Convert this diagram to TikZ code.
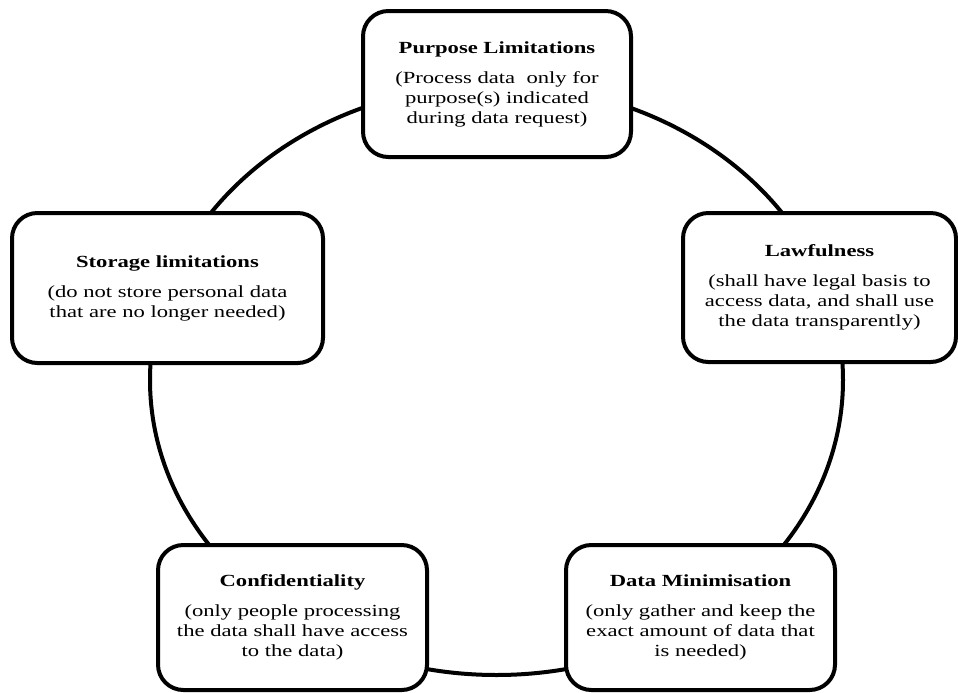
\documentclass[tikz,border=0pt]{standalone}
\usepackage{fontspec}
\setmainfont{Liberation Serif}[FakeStretch=1.33]
\usetikzlibrary{shapes.geometric}
\begin{document}
\begin{tikzpicture}[x=0.75pt,y=-0.75pt,
  ring/.style={draw, line width=3pt, ellipse, inner sep=0pt},
  principle/.style={draw, line width=3pt, rounded corners=19pt, fill=white, align=center, inner sep=0pt, font=\fontsize{12.75}{15}\selectfont}]
\useasboundingbox (0,0) rectangle (958,693);
\node[ring, minimum width=519.75pt, minimum height=442.5pt] (cycle) at (496.5,380) {};
\node[principle, minimum width=201pt, minimum height=109.5pt] (purpose) at (497,84) {\textbf{Purpose Limitations}\\[7.5pt](Process data\ \ only for\\purpose(s) indicated\\during data request)};
\node[principle, minimum width=204.75pt, minimum height=111.75pt] (lawful) at (819.5,287.5) {\textbf{Lawfulness}\\[7.5pt](shall have legal basis to\\access data, and shall use\\the data transparently)};
\node[principle, minimum width=201.75pt, minimum height=108.75pt] (minim) at (700.5,617.5) {\textbf{Data Minimisation}\\[7.5pt](only gather and keep the\\exact amount of data that\\is needed)};
\node[principle, minimum width=201.75pt, minimum height=108.75pt] (confid) at (292.5,617.5) {\textbf{Confidentiality}\\[7.5pt](only people processing\\the data shall have access\\to the data)};
\node[principle, minimum width=233.25pt, minimum height=112.5pt] (storage) at (167.5,288) {\textbf{Storage limitations}\\[7.5pt](do not store personal data\\that are no longer needed)};
\end{tikzpicture}
\end{document}
